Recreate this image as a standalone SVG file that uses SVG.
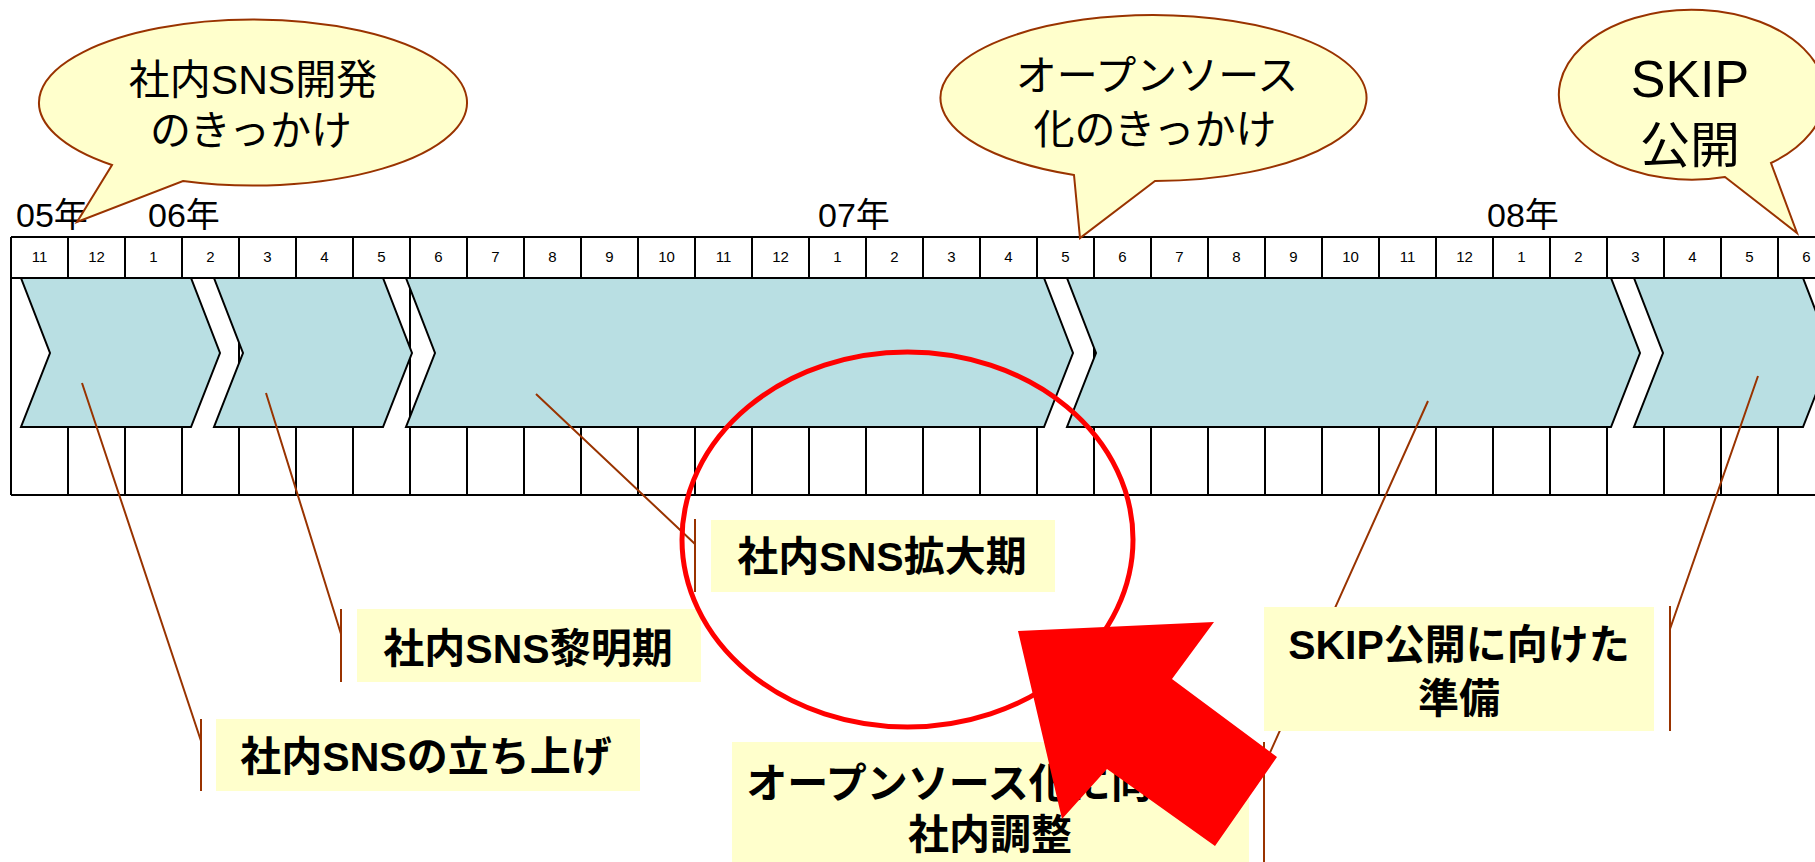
<svg xmlns="http://www.w3.org/2000/svg" width="1815" height="862" viewBox="0 0 1815 862">
<style>
.grid{stroke:#000;stroke-width:2;fill:none}
.chev{fill:#B9DFE3;stroke:#000;stroke-width:2;stroke-linejoin:miter}
.f{font-family:"Liberation Sans","Noto Sans CJK JP",sans-serif;fill:#000}
.mon{font-size:15px;text-anchor:middle}
.yr{font-size:34px}
.bub{fill:#FFFFCC;stroke:#993300;stroke-width:2}
.bt{font-size:41px;text-anchor:middle}
.lab{fill:#FFFFCC}
.lt{font-size:41px;font-weight:bold;text-anchor:middle}
.lead{stroke:#993300;stroke-width:2;fill:none}
.red{stroke:#FF0000;stroke-width:5;fill:none}
</style>
<rect width="1815" height="862" fill="#fff"/>
<g id="timeline">
<path class="grid" d="M11 237H1815M11 278H1815M11 495H1815M11 237V495M68 237V495M125 237V495M182 237V495M239 237V495M296 237V495M353 237V495M410 237V495M467 237V495M524 237V495M581 237V495M638 237V495M695 237V495M752 237V495M809 237V495M866 237V495M923 237V495M980 237V495M1037 237V495M1094 237V495M1151 237V495M1208 237V495M1265 237V495M1322 237V495M1379 237V495M1436 237V495M1493 237V495M1550 237V495M1607 237V495M1664 237V495M1721 237V495M1778 237V495"/>
<g class="f mon">
<text x="39.5" y="262">11</text><text x="96.5" y="262">12</text><text x="153.5" y="262">1</text><text x="210.5" y="262">2</text><text x="267.5" y="262">3</text><text x="324.5" y="262">4</text><text x="381.5" y="262">5</text><text x="438.5" y="262">6</text><text x="495.5" y="262">7</text><text x="552.5" y="262">8</text><text x="609.5" y="262">9</text><text x="666.5" y="262">10</text><text x="723.5" y="262">11</text><text x="780.5" y="262">12</text><text x="837.5" y="262">1</text><text x="894.5" y="262">2</text><text x="951.5" y="262">3</text><text x="1008.5" y="262">4</text><text x="1065.5" y="262">5</text><text x="1122.5" y="262">6</text><text x="1179.5" y="262">7</text><text x="1236.5" y="262">8</text><text x="1293.5" y="262">9</text><text x="1350.5" y="262">10</text><text x="1407.5" y="262">11</text><text x="1464.5" y="262">12</text><text x="1521.5" y="262">1</text><text x="1578.5" y="262">2</text><text x="1635.5" y="262">3</text><text x="1692.5" y="262">4</text><text x="1749.5" y="262">5</text><text x="1806.5" y="262">6</text>
</g>
<g class="f yr">
<text x="16" y="227">05年</text><text x="148" y="227">06年</text><text x="818" y="227">07年</text><text x="1487" y="227">08年</text>
</g>
</g>
<g id="phase1"><polygon class="chev" points="21,278 191,278 220,353 191,427 21,427 50,353"/></g>
<g id="phase2"><polygon class="chev" points="214,278 383,278 412,353 383,427 214,427 243,353"/></g>
<g id="phase3"><polygon class="chev" points="406,278 1044,278 1073,353 1044,427 406,427 435,353"/></g>
<g id="phase4"><polygon class="chev" points="1067,278 1611,278 1640,353 1611,427 1067,427 1096,353"/></g>
<g id="phase5"><polygon class="chev" points="1634,278 1803,278 1832,353 1803,427 1634,427 1663,353"/></g>
<g id="connectors">
<path class="lead" d="M82 383L201 741M201 719V791"/>
<path class="lead" d="M266 393L341 634M341 609V682"/>
<path class="lead" d="M536 394L695 544M695 519V592"/>
<path class="lead" d="M1428 401L1264 766M1264 742V862"/>
<path class="lead" d="M1758 376L1670 629M1670 606V731"/>
</g>
<g id="label1"><rect class="lab" x="216" y="719" width="424" height="72"/><text class="f lt" x="426" y="771">社内SNSの立ち上げ</text></g>
<g id="label2"><rect class="lab" x="357" y="609" width="344" height="73"/><text class="f lt" x="528" y="663">社内SNS黎明期</text></g>
<g id="label3"><rect class="lab" x="711" y="520" width="344" height="72"/><text class="f lt" x="882" y="571">社内SNS拡大期</text></g>
<g id="label4"><rect class="lab" x="732" y="742" width="517" height="130"/><text class="f lt" x="990" y="798">オープンソース化に向けた</text><text class="f lt" x="990" y="849">社内調整</text></g>
<g id="label5"><rect class="lab" x="1264" y="607" width="390" height="124"/><text class="f lt" x="1459" y="659">SKIP公開に向けた</text><text class="f lt" x="1459" y="713">準備</text></g>
<g id="bubble1"><path class="bub" d="M183 181A214 83 0 1 0 112 165L77 222Z"/><text class="f bt" x="253" y="94">社内SNS開発</text><text class="f bt" x="251" y="145">のきっかけ</text></g>
<g id="bubble2"><path class="bub" d="M1155 181A213 83 0 1 0 1074 175L1080 238Z"/><text class="f bt" x="1157" y="90">オープンソース</text><text class="f bt" x="1155" y="144">化のきっかけ</text></g>
<g id="bubble3"><path class="bub" d="M1725 177A133 85 0 1 1 1771 163L1797 233Z"/><text class="f" x="1690" y="97" font-size="52" text-anchor="middle">SKIP</text><text class="f" x="1690" y="163" font-size="50" text-anchor="middle">公開</text></g>
<g id="highlight"><ellipse class="red" cx="907.5" cy="539.5" rx="225.5" ry="187.5"/></g>
<g id="arrow"><polygon fill="#FF0000" points="1018,631 1214,622 1172,679 1277,757 1215,846 1107,769 1062,819"/></g>
</svg>
